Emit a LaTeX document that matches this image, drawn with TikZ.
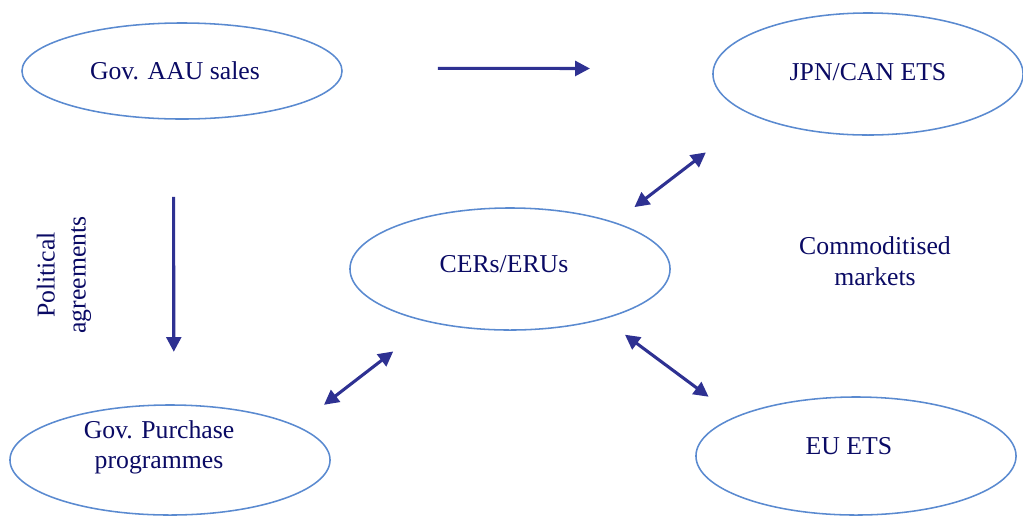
\documentclass[tikz,border=0pt]{standalone}
\usepackage{fontspec}
\setmainfont{Liberation Serif}
\usepackage{tikz}
\usetikzlibrary{shapes.geometric}
\usetikzlibrary{arrows.meta}
\definecolor{ovalblue}{RGB}{90,138,208}
\definecolor{arrowblue}{RGB}{46,49,146}
\definecolor{textnavy}{RGB}{10,10,100}
\tikzset{
  market/.style={draw=ovalblue, line width=1.1pt, ellipse, inner sep=0pt, outer sep=0pt},
  lbl/.style={text=textnavy, font=\fontsize{18.3pt}{22pt}\selectfont, align=center},
  flow/.style={draw=arrowblue, line width=2.2pt, -{Triangle[length=10.5pt,width=10.5pt]}},
  twoway/.style={flow, {Triangle[length=10.5pt,width=10.5pt]}-{Triangle[length=10.5pt,width=10.5pt]}},
}

\begin{document}
\begin{tikzpicture}[x=0.025cm, y=-0.025cm]
            \useasboundingbox (0,0) rectangle (1023,516);
            % Ovals
            \node [market, minimum width=8cm, minimum height=2.4cm,
                   label={[lbl, xshift=-5pt]center:Gov. AAU sales}] (aau) at (182,71) {};
            \node [market, minimum width=7.75cm, minimum height=3.05cm,
                   label={[lbl, yshift=1.5pt]center:JPN/CAN ETS}] (jpn) at (868,74) {};
            \node [market, minimum width=8cm, minimum height=3.05cm,
                   label={[lbl, xshift=-4.3pt, yshift=3.5pt]center:CERs/ERUs}] (cers) at (510,269) {};
            \node [market, minimum width=8cm, minimum height=2.75cm,
                   label={[lbl, xshift=-7.8pt, yshift=9pt]center:Gov. Purchase\\programmes}] (purchase) at (170,460) {};
            \node [market, minimum width=8cm, minimum height=2.95cm,
                   label={[lbl, xshift=-5pt, yshift=7pt]center:EU ETS}] (eu) at (856,456) {};
            % Side texts
            \node [lbl, rotate=90] (political) at (64,275) {Political\\agreements};
            \node [lbl] (commodity) at (875,261) {Commoditised\\markets};
            % Flows
            \draw [flow, shorten <=2.4cm, shorten >=3.09cm] (aau.1) -- (jpn.178);
            \draw [flow, shorten <=1.95cm, shorten >=1.33cm] (aau.-100.6) -- (purchase.86.9);
            \draw [twoway, shorten <=0.64cm, shorten >=1.52cm] (cers.24) -- (jpn.200.2);
            \draw [twoway, shorten <=0.875cm, shorten >=1.2cm] (purchase.15.2) -- (cers.214.5);
            \draw [twoway, shorten <=0.675cm, shorten >=0.85cm] (cers.332) -- (eu.162.7);
        \end{tikzpicture}
\end{document}
